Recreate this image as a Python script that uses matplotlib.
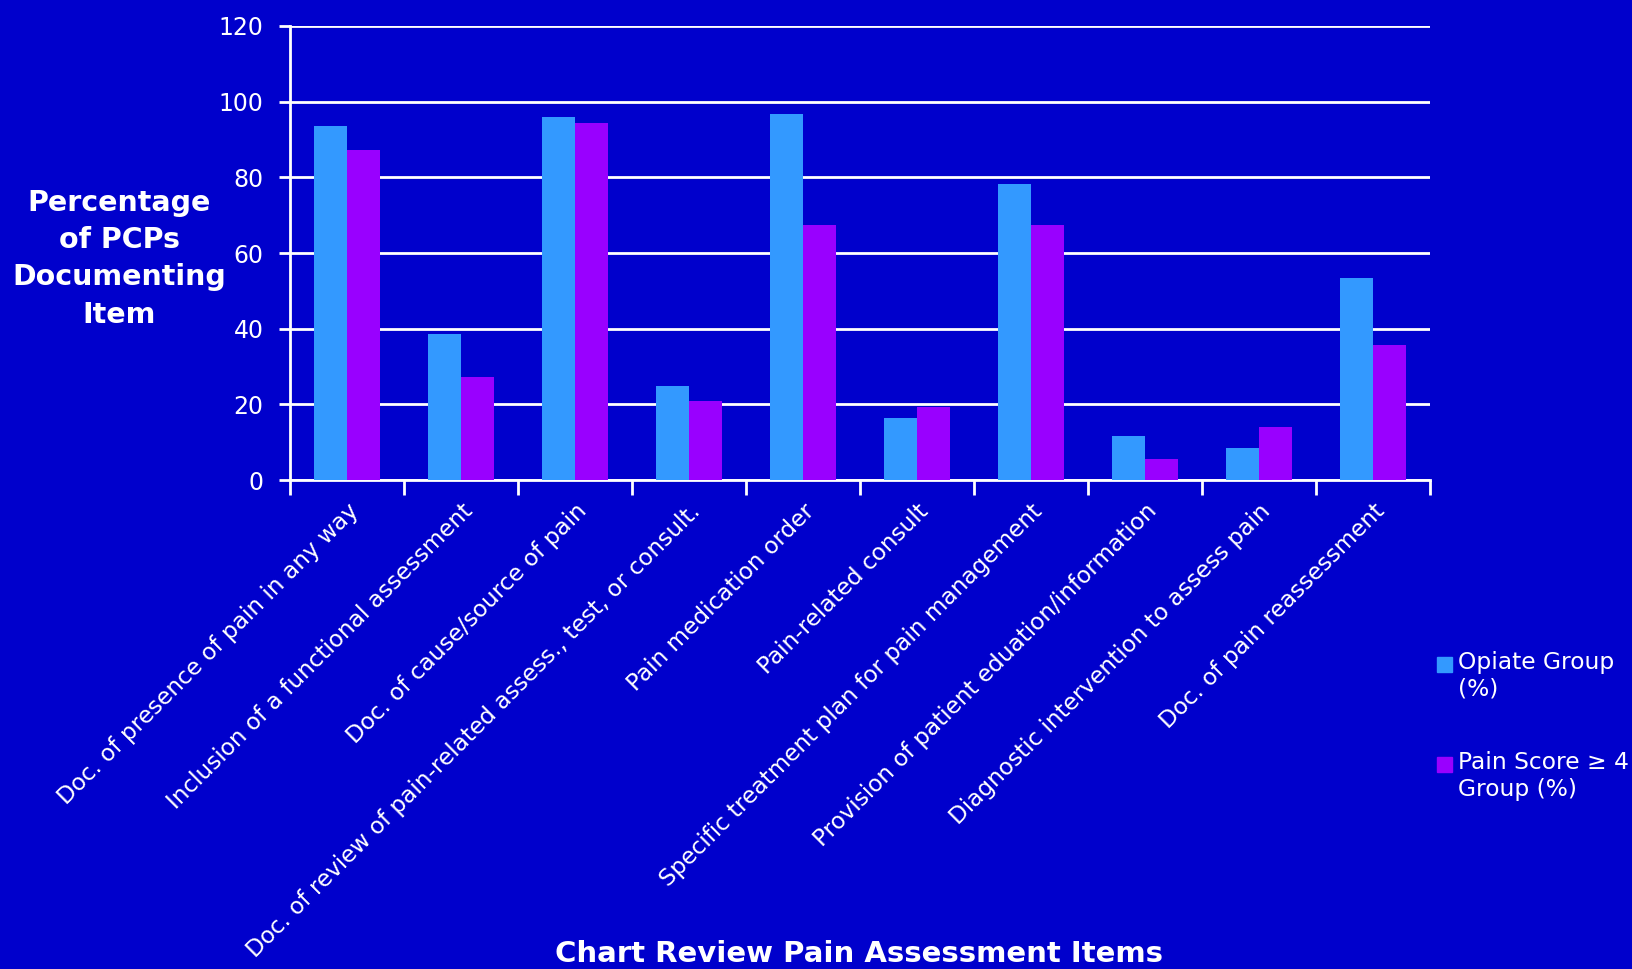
import numpy as np
import matplotlib.pyplot as plt
from matplotlib.ticker import FixedLocator
from matplotlib.patches import Rectangle

items = [
    "Doc. of presence of pain in any way",
    "Inclusion of a functional assessment",
    "Doc. of cause/source of pain",
    "Doc. of review of pain-related assess., test, or consult.",
    "Pain medication order",
    "Pain-related consult",
    "Specific treatment plan for pain management",
    "Provision of patient eduation/information",
    "Diagnostic intervention to assess pain",
    "Doc. of pain reassessment",
]
opiate = [93.6, 38.7, 96.0, 24.8, 96.8, 16.3, 78.3, 11.6, 8.6, 53.5]
pain_score = [87.3, 27.1, 94.4, 21.0, 67.5, 19.2, 67.5, 5.5, 13.9, 35.6]
y_ticks = [0, 20, 40, 60, 80, 100, 120]
series_names = ["Opiate Group\n(%)", "Pain Score \u2265 4\nGroup (%)"]

bg = "#0000CC"
c_opiate = "#3399FF"
c_pain = "#9900FF"

plt.rcParams['font.family'] = ['DejaVu Sans']

fig = plt.figure(figsize=(16.33, 9.69), dpi=100, facecolor=bg)
ax = fig.add_axes([0.1776, 0.5046, 0.6981, 0.4686], facecolor=bg)

x = np.arange(len(items))
w = 0.29
ax.bar(x - w / 2, opiate, w, color=c_opiate, zorder=3)
ax.bar(x + w / 2, pain_score, w, color=c_pain, zorder=3)

ax.set_xlim(-0.5, len(items) - 0.5)
ax.set_ylim(0, 120)
ax.set_yticks(y_ticks)
ax.yaxis.grid(True, color="white", linewidth=2, zorder=0)
ax.set_axisbelow(True)

for s in ["top", "right"]:
    ax.spines[s].set_visible(False)
for s in ["left", "bottom"]:
    ax.spines[s].set_color("white")
    ax.spines[s].set_linewidth(2)

ax.set_xticks(x)
ax.set_xticklabels(items, rotation=45, ha="right", rotation_mode="anchor",
                   color="white", fontsize=16.7)
ax.tick_params(axis="x", which="major", length=0, pad=14)
ax.xaxis.set_minor_locator(FixedLocator(np.arange(-0.5, len(items), 1.0)))
ax.tick_params(axis="x", which="minor", length=11, width=2, color="white", direction="out")
ax.tick_params(axis="y", length=8, width=2, color="white", labelcolor="white",
               labelsize=17, pad=11)

fig.text(0.073, 0.733, "Percentage\nof PCPs\nDocumenting\nItem", color="white",
         fontsize=20.5, fontweight="bold", ha="center", va="center", linespacing=1.42)
fig.text(0.526, 0.03, "Chart Review Pain Assessment Items", color="white",
         fontsize=21, fontweight="bold", ha="center", va="top")

# legend, square lined up with the first line of each label
W, H = 1633, 969
colors = [c_opiate, c_pain]
sq_tops = [657, 757]
for name, col, top in zip(series_names, colors, sq_tops):
    fig.patches.append(Rectangle((1437 / W, 1 - (top + 15) / H), 15 / W, 15 / H,
                                 transform=fig.transFigure, color=col))
    fig.text(1458 / W, 1 - (top - 6) / H, name, color="white", fontsize=16.8,
             ha="left", va="top", linespacing=1.2)

plt.savefig("out.png", facecolor=bg)
